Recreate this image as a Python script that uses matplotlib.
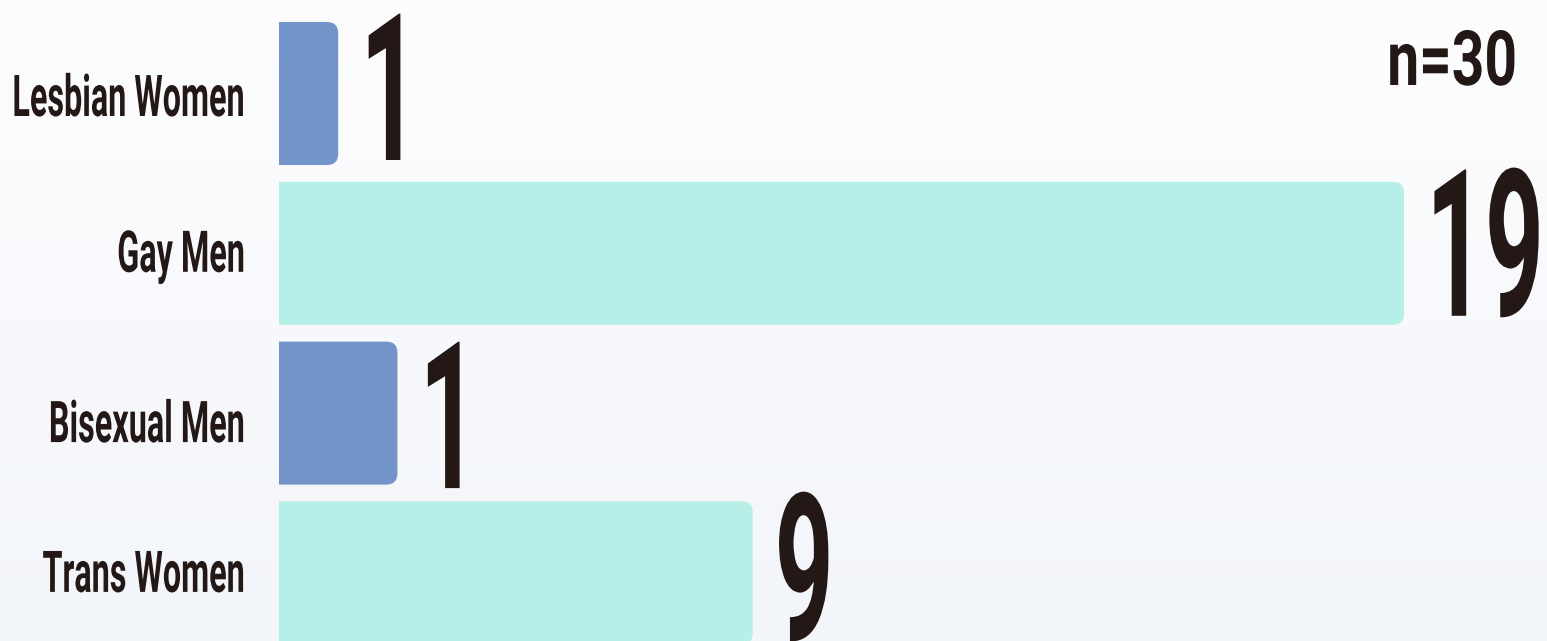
import numpy as np
import matplotlib
matplotlib.use("Agg")
import matplotlib.pyplot as plt
from matplotlib.patches import FancyBboxPatch
from matplotlib.patheffects import AbstractPathEffect
from matplotlib.transforms import Affine2D

# ---- data ----
categories = ["Lesbian Women", "Gay Men", "Bisexual Men", "Trans Women"]
bar_lengths = [1, 19, 2, 8]          # bar lengths as drawn in the reference
value_labels = ["1", "19", "1", "9"]  # numbers printed next to the bars
total_label = "n=30"

# ---- style ----
BLUE = "#7394c8"
MINT = "#b5efe7"
bar_colors = [BLUE, MINT, BLUE, MINT]
TEXT = "#231815"
FONT = ["Roboto", "DejaVu Sans"]
label_baseline_px = [22.5, 18.5, 29, 19]
value_baseline_px = [66.5, 62.5, 75, 67]

W, H, DPI = 1547, 641, 100


class Tall(AbstractPathEffect):
    """Draw the text glyph outlines stretched vertically about the baseline
    (gives a condensed-typeface look)."""
    def __init__(self, sy):
        super().__init__()
        self.sy = sy

    def draw_path(self, renderer, gc, tpath, affine, rgbFace=None):
        t = Affine2D().scale(1, self.sy) + affine
        renderer.draw_path(gc, tpath, t, rgbFace)


fig = plt.figure(figsize=(W / DPI, H / DPI), dpi=DPI)

# background gradient
bg = fig.add_axes([0, 0, 1, 1], zorder=-10)
top = np.array([0xfd, 0xfd, 0xfe]) / 255
bot = np.array([0xf2, 0xf5, 0xfa]) / 255
t = np.linspace(0, 1, 256)[:, None]
grad = (top[None, :] * (1 - t) + bot[None, :] * t)[:, None, :]
bg.imshow(grad, aspect="auto", extent=[0, 1, 0, 1], interpolation="bilinear")
bg.set_axis_off()

# main axes: x=0 at pixel 279
x_left = 279
unit_px = 1125 / 19
ax = fig.add_axes([x_left / W, 0, (W - x_left) / W, 1])
ax.set_xlim(0, (W - x_left) / unit_px)
row_px = 159.8
c0 = 93.5
ax.set_ylim((H - c0) / row_px, -c0 / row_px)
ax.set_axis_off()
ax.patch.set_alpha(0)

ypos = np.arange(len(categories))
bar_h = 143 / row_px
bars = ax.barh(ypos, bar_lengths, height=bar_h, color=bar_colors)

r_px = 11
mut_aspect = (1 / row_px) / (1 / unit_px)
for rect, col in zip(bars, bar_colors):
    rect.set_visible(False)
    x, y = rect.get_x(), rect.get_y()
    w, h = rect.get_width(), rect.get_height()
    ext = 20 / unit_px
    p = FancyBboxPatch((x - ext, y), w + ext, h,
                       boxstyle=f"round,pad=0,rounding_size={r_px / unit_px}",
                       mutation_aspect=mut_aspect,
                       facecolor=col, edgecolor="none", clip_on=True)
    ax.add_patch(p)
    p.set_clip_path(ax.patch)

# category labels
lab_x = -(x_left - 245) / unit_px
for yi, cat, off in zip(ypos, categories, label_baseline_px):
    ax.text(lab_x, yi + off / row_px, cat, ha="right", va="baseline",
            fontsize=23.3, fontweight="bold", family=FONT, color=TEXT,
            clip_on=False, path_effects=[Tall(1.78)])

# value labels
for yi, L, s, off in zip(ypos, bar_lengths, value_labels, value_baseline_px):
    ax.text(L + 22 / unit_px, yi + off / row_px, s, ha="left", va="baseline",
            fontsize=74, fontweight="bold", family=FONT, color=TEXT,
            clip_on=False, path_effects=[Tall(2.0)])

# n=30
fig.text(1517 / W, 1 - 85 / H, total_label, ha="right", va="baseline",
         fontsize=41, fontweight="bold", family=FONT, color=TEXT,
         path_effects=[Tall(1.34)])

fig.savefig("out.png", dpi=DPI)
